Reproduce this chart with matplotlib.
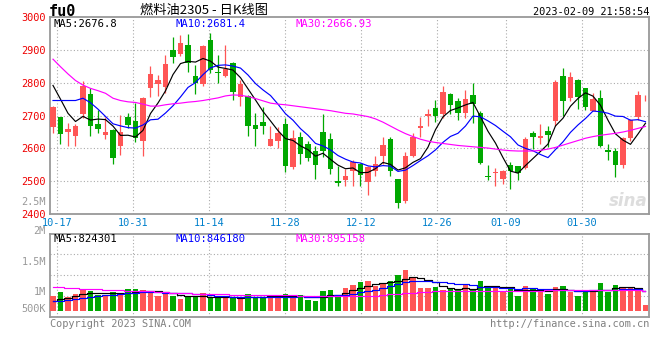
import numpy as np
import pandas as pd
import matplotlib
matplotlib.use("Agg")
import matplotlib.pyplot as plt

# ---------------------------------------------------------------------
# data (fu2305), 10-14 .. 02-10 night
# ---------------------------------------------------------------------
opens = [2664, 2695, 2651, 2638, 2705, 2766, 2675, 2641, 2656, 2608,
         2695, 2685, 2624, 2785, 2796, 2788, 2900, 2888, 2915, 2821,
         2796, 2930, 2834, 2820, 2861, 2758, 2760, 2672, 2682, 2608,
         2624, 2674, 2543, 2634, 2614, 2592, 2650, 2629, 2500, 2504,
         2532, 2553, 2497, 2530, 2577, 2629, 2506, 2441, 2578, 2661,
         2699, 2722, 2705, 2766, 2743, 2709, 2763, 2709, 2516, 2524,
         2506, 2550, 2545, 2540, 2646, 2632, 2653, 2685, 2821, 2753,
         2809, 2783, 2715, 2753, 2595, 2592, 2550, 2631, 2695, 2753]
highs = [2729, 2697, 2677, 2675, 2804, 2783, 2717, 2697, 2660, 2702,
         2707, 2738, 2758, 2851, 2824, 2885, 2939, 2946, 2949, 2854,
         2915, 2953, 2885, 2915, 2864, 2810, 2763, 2709, 2725, 2669,
         2664, 2692, 2656, 2649, 2624, 2606, 2705, 2646, 2545, 2537,
         2565, 2557, 2545, 2578, 2634, 2635, 2508, 2588, 2646, 2697,
         2719, 2749, 2790, 2769, 2754, 2777, 2798, 2714, 2550, 2540,
         2535, 2560, 2547, 2636, 2652, 2674, 2669, 2808, 2845, 2832,
         2812, 2785, 2770, 2777, 2614, 2602, 2635, 2690, 2774, 2763]
lows = [2648, 2614, 2608, 2608, 2692, 2638, 2648, 2628, 2553, 2580,
        2662, 2618, 2577, 2758, 2760, 2768, 2859, 2882, 2834, 2766,
        2790, 2831, 2800, 2818, 2748, 2728, 2638, 2608, 2644, 2606,
        2600, 2527, 2537, 2553, 2563, 2508, 2575, 2523, 2484, 2484,
        2484, 2486, 2458, 2517, 2553, 2515, 2418, 2435, 2575, 2636,
        2668, 2681, 2692, 2705, 2688, 2692, 2677, 2553, 2505, 2484,
        2490, 2477, 2505, 2538, 2597, 2614, 2605, 2668, 2698, 2746,
        2720, 2716, 2713, 2604, 2566, 2513, 2540, 2624, 2688, 2746]
closes = [2725, 2644, 2659, 2669, 2791, 2669, 2659, 2651, 2570, 2649,
          2672, 2631, 2753, 2827, 2809, 2857, 2880, 2920, 2861, 2798,
          2912, 2839, 2829, 2841, 2773, 2796, 2669, 2659, 2667, 2628,
          2648, 2547, 2631, 2584, 2571, 2548, 2592, 2538, 2496, 2516,
          2560, 2519, 2543, 2553, 2611, 2530, 2433, 2577, 2636, 2668,
          2705, 2699, 2773, 2733, 2707, 2751, 2736, 2555, 2512, 2527,
          2530, 2530, 2524, 2628, 2634, 2638, 2641, 2801, 2746, 2817,
          2756, 2727, 2751, 2606, 2590, 2548, 2631, 2687, 2763, 2755]
# closes before the window, estimated from where the MA lines start
prior_closes = [2644, 2659, 2669, 2721, 2807, 2854, 2874, 2794, 2713]

ma30 = [2872, 2849, 2827, 2807, 2793, 2783, 2776, 2768, 2753, 2746,
        2742, 2740, 2735, 2729, 2729, 2733, 2736, 2738, 2741, 2743,
        2746, 2750, 2754, 2760, 2763, 2762, 2758, 2752, 2745, 2738,
        2735, 2733, 2730, 2727, 2724, 2721, 2718, 2715, 2711, 2707,
        2705, 2701, 2697, 2690, 2680, 2668, 2656, 2645, 2636, 2628,
        2622, 2618, 2615, 2612, 2609, 2607, 2605, 2603, 2601, 2598,
        2595, 2593, 2592, 2592, 2592, 2594, 2598, 2603, 2610, 2617,
        2624, 2631, 2636, 2640, 2643, 2646, 2650, 2655, 2661, 2667]

volumes = [917000, 980000, 901000, 946000, 1013000, 997000, 929000, 929000, 980000, 946000,
           1025000, 1025000, 1013000, 985000, 912000, 963000, 917000, 862000, 901000, 895000,
           958000, 873000, 890000, 873000, 901000, 873000, 946000, 890000, 884000, 929000,
           901000, 946000, 890000, 929000, 845000, 833000, 997000, 1013000, 929000, 1052000,
           1098000, 1153000, 1170000, 1081000, 1137000, 1170000, 1266000, 1351000, 1211000, 1052000,
           1052000, 1069000, 1013000, 1025000, 1013000, 1098000, 1013000, 1165000, 1081000, 1059000,
           985000, 1025000, 912000, 1081000, 1042000, 1002000, 946000, 1059000, 1081000, 980000,
           912000, 985000, 1013000, 1137000, 985000, 1098000, 1059000, 1042000, 1042000, 761000]
prior_volumes = [830000, 800000, 820000, 840000, 810000, 790000, 800000, 820000, 780000]
vol_ma30 = [1060000, 1060000, 1050000, 1040000, 1030000, 1030000, 1030000, 1020000, 1020000, 1010000,
            1000000, 1000000, 990000, 990000, 980000, 980000, 970000, 960000, 960000, 950000,
            950000, 940000, 940000, 940000, 930000, 930000, 930000, 930000, 930000, 930000,
            930000, 930000, 930000, 920000, 920000, 920000, 920000, 920000, 920000, 910000,
            910000, 910000, 910000, 920000, 930000, 940000, 950000, 960000, 970000, 980000,
            980000, 990000, 990000, 990000, 1000000, 1000000, 1000000, 1000000, 1000000, 1000000,
            1000000, 1000000, 1000000, 1000000, 1000000, 1000000, 1010000, 1010000, 1010000, 1010000,
            1010000, 1010000, 1010000, 1010000, 1010000, 1010000, 1010000, 1010000, 1010000, 1000000]

tick_labels = ["10-17", "10-31", "11-14", "11-28", "12-12", "12-26", "01-09", "01-30"]
tick_days = [1, 11, 21, 31, 41, 51, 60, 70]
price_ticks = [2400, 2500, 2600, 2700, 2800, 2900, 3000]

# ---------------------------------------------------------------------
RED = "#ff5555"
GREEN = "#00a800"
GRID = "#aaaaaa"
FRAME = "#999999"
plt.rcParams["font.family"] = ["DejaVu Sans Mono"]

W, H = 660, 360
def fx(px):
    return px / W
def fy(py):
    return 1 - py / H

o = np.array(opens, float)
c = np.array(closes, float)
h = np.array(highs, float)
l = np.array(lows, float)
x = np.arange(len(c))
colors = np.where(c >= o, RED, GREEN)

allc = pd.Series(prior_closes + closes, dtype=float)
ma5 = allc.rolling(5).mean().values[len(prior_closes):]
ma10 = allc.rolling(10).mean().values[len(prior_closes):]
allv = pd.Series(prior_volumes + volumes, dtype=float)
vma5 = allv.rolling(5).mean().values[len(prior_volumes):]
vma10 = allv.rolling(10).mean().values[len(prior_volumes):]

# sina puts the date grid on a slightly wider step than the candles
grid_x = [0.573 + (d - 1) * 7.6 / 7.5 for d in tick_days]
xlim = (-0.4, 79.47)

fig = plt.figure(figsize=(6.6, 3.6), dpi=100)
ax = fig.add_axes([fx(50), fy(214), fx(599), 196.8 / H])
axv = fig.add_axes([fx(50), fy(317.3), fx(599), 83.8 / H])

# --- price panel ---
ax.vlines(x, l, h, colors=colors, linewidth=0.9, zorder=3)
body = np.maximum(np.abs(c - o), 1.5)
ax.bar(x, body, bottom=np.minimum(o, c), width=0.78, color=colors, linewidth=0, zorder=4)
ax.plot(x, ma5, color="black", lw=0.85, zorder=5)
ax.plot(x, ma10, color="#0000ff", lw=0.85, zorder=5)
ax.plot(x, ma30, color="#ff00ff", lw=0.85, zorder=5)
ax.set_xlim(*xlim)
ax.set_ylim(2400, 3000)
ax.set_yticks(price_ticks)
ax.set_yticklabels([str(t) for t in price_ticks], color="#ee0000", fontsize=7.4)
ax.set_xticks(grid_x)
ax.set_xticklabels(tick_labels, color="#0080cc", fontsize=7.4)
ax.tick_params(length=0, pad=3)
for t in price_ticks[1:-1]:
    ax.axhline(t, color=GRID, lw=0.8, ls=(0, (1, 2)), zorder=1)
for gx in grid_x:
    ax.axvline(gx, color=GRID, lw=0.8, ls=(0, (1, 2)), zorder=1)
ax.text(0.997, 0.02, "sina", transform=ax.transAxes, ha="right", va="bottom",
        fontsize=12, color="#dddddd", style="italic", weight="bold",
        family=["DejaVu Sans"], zorder=2)

# --- volume panel ---
vbase = 651000
axv.bar(x, np.array(volumes) - vbase, bottom=vbase, width=0.78, color=colors, linewidth=0, zorder=3)
axv.plot(x, vma5, color="black", lw=0.85, drawstyle="steps-mid", zorder=5)
axv.plot(x, vma10, color="#0000ff", lw=0.85, drawstyle="steps-mid", zorder=5)
axv.plot(x, vol_ma30, color="#ff00ff", lw=0.85, drawstyle="steps-mid", zorder=5)
axv.set_xlim(*xlim)
axv.set_ylim(553000, 1966000)
axv.set_xticks([])
axv.set_yticks([1000000, 1500000])
axv.set_yticklabels(["1M", "1.5M"], color="#999999", fontsize=7.4)
axv.tick_params(length=0, pad=3)
lo, hi = axv.get_ylim()
for f in (0.25, 0.5, 0.75):
    axv.axhline(lo + f * (hi - lo), color=GRID, lw=0.8, ls=(0, (1, 2)), zorder=1)
for gx in grid_x:
    axv.axvline(gx, color=GRID, lw=0.8, ls=(0, (1, 2)), zorder=1)
ytr = axv.get_yaxis_transform()
axv.text(-0.007, 2000000, "2M", transform=ytr, ha="right", va="center",
         color="#999999", fontsize=7.4, clip_on=False)
axv.text(-0.007, 2500000, "2.5M", transform=ytr, ha="right", va="center",
         color="#999999", fontsize=7.4, clip_on=False)
axv.annotate("500K", xy=(0, 0), xycoords="axes fraction", xytext=(-3, 2.5),
             textcoords="offset points", ha="right", va="bottom",
             color="#999999", fontsize=7.4)

for a in (ax, axv):
    for s in a.spines.values():
        s.set_color(FRAME)
        s.set_linewidth(1.3)

# --- texts ---
fig.text(fx(49), fy(11), "fu0", fontsize=11, weight="bold", va="center", ha="left")
fig.text(fx(140), fy(10), "燃料油2305 - 日K线图", fontsize=9.5, va="center", ha="left",
         family=["Noto Sans CJK SC", "DejaVu Sans"])
fig.text(fx(649), fy(12), "2023-02-09 21:58:54", fontsize=7.4, va="center", ha="right")

fig.text(fx(54), fy(24), "MA5:2676.8", fontsize=7.6, va="center", color="black")
fig.text(fx(175), fy(24), "MA10:2681.4", fontsize=7.6, va="center", color="#0000ff")
fig.text(fx(295), fy(24), "MA30:2666.93", fontsize=7.6, va="center", color="#ff00ff")
fig.text(fx(54), fy(238.5), "MA5:824301", fontsize=7.6, va="center", color="black")
fig.text(fx(175), fy(238.5), "MA10:846180", fontsize=7.6, va="center", color="#0000ff")
fig.text(fx(295), fy(238.5), "MA30:895158", fontsize=7.6, va="center", color="#ff00ff")

fig.text(fx(50), fy(324), "Copyright 2023 SINA.COM", fontsize=7.4, va="center", color="#808080")
fig.text(fx(649), fy(324), "http://finance.sina.com.cn", fontsize=7.4, va="center",
         ha="right", color="#808080")

fig.savefig("out.png", dpi=100)
